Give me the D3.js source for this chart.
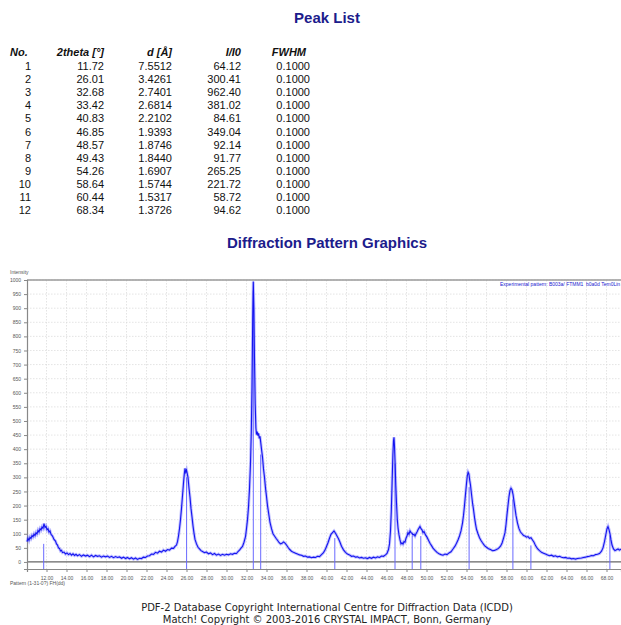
<!DOCTYPE html>
<html lang="en">
  <head>
    <meta charset="utf-8" />
    <title>Peak List</title>
    <script src="https://d3js.org/d3.v7.min.js"></script>
    <style type="text/css">
      body {
        margin: 0;
        background: #fff;
      }
      .title {
        font-family: "Liberation Sans", Arial, sans-serif;
        font-weight: bold;
        font-size: 15px;
        fill: #1c1c8c;
      }
      .tbl {
        font-family: "Liberation Sans", Arial, sans-serif;
        font-size: 11px;
        fill: #111;
      }
      .tbl.head {
        font-style: italic;
        font-weight: bold;
      }
      .tiny {
        font-family: "Liberation Sans", Arial, sans-serif;
        font-size: 5px;
        fill: #555;
      }
      .foot {
        font-family: "DejaVu Sans", Verdana, sans-serif;
        font-size: 10px;
        fill: #222;
      }
    </style>
  </head>
  <body>
    <script type="text/javascript">
      // peak list
      var peakNo = [1, 2, 3, 4, 5, 6, 7, 8, 9, 10, 11, 12];
      var peakTheta = [11.72, 26.01, 32.68, 33.42, 40.83, 46.85, 48.57, 49.43, 54.26, 58.64, 60.44, 68.34];
      var peakD = ["7.5512", "3.4261", "2.7401", "2.6814", "2.2102", "1.9393", "1.8746", "1.8440", "1.6907", "1.5744", "1.5317", "1.3726"];
      var peakI = [64.12, 300.41, 962.40, 381.02, 84.61, 349.04, 92.14, 91.77, 265.25, 221.72, 58.72, 94.62];
      var peakFwhm = [0.1, 0.1, 0.1, 0.1, 0.1, 0.1, 0.1, 0.1, 0.1, 0.1, 0.1, 0.1];

      var patTheta = [
        10.05, 10.15, 10.25, 10.35, 10.45, 10.55, 10.65, 10.75, 10.85, 10.95,
        11.05, 11.15, 11.25, 11.35, 11.45, 11.55, 11.65, 11.75, 11.85, 11.95,
        12.05, 12.15, 12.25, 12.35, 12.45, 12.6, 12.75, 12.9, 13.0, 13.1,
        13.2, 13.3, 13.4, 13.5, 13.6, 13.75, 13.9, 14.05, 14.2, 14.35,
        14.5, 14.65, 14.8, 14.95, 15.1, 15.3, 15.5, 15.7, 15.9, 16.1,
        16.3, 16.5, 16.7, 16.9, 17.1, 17.3, 17.5, 17.7, 17.9, 18.1,
        18.3, 18.5, 18.7, 18.9, 19.1, 19.3, 19.5, 19.7, 19.9, 20.1,
        20.3, 20.5, 20.7, 20.9, 21.1, 21.3, 21.5, 21.7, 21.9, 22.1,
        22.3, 22.5, 22.7, 22.9, 23.1, 23.3, 23.5, 23.7, 23.9, 24.1,
        24.3, 24.5, 24.7, 24.85, 25.0, 25.1, 25.2, 25.3, 25.4, 25.5,
        25.6, 25.7, 25.78, 25.85, 25.92, 26.0, 26.08, 26.15, 26.25, 26.35,
        26.45, 26.55, 26.65, 26.75, 26.85, 27.0, 27.15, 27.3, 27.45, 27.6,
        27.8, 28.0, 28.2, 28.4, 28.6, 28.8, 29.0, 29.2, 29.4, 29.6,
        29.8, 30.0, 30.2, 30.4, 30.6, 30.8, 31.0, 31.15, 31.3, 31.45,
        31.6, 31.75, 31.9, 32.0, 32.1, 32.2, 32.3, 32.4, 32.48, 32.55,
        32.62, 32.68, 32.74, 32.8, 32.87, 32.94, 33.0, 33.07, 33.14, 33.21,
        33.28, 33.35, 33.42, 33.5, 33.6, 33.7, 33.8, 33.9, 34.0, 34.1,
        34.2, 34.35, 34.5, 34.65, 34.8, 34.95, 35.1, 35.25, 35.4, 35.55,
        35.7, 35.85, 36.0, 36.15, 36.3, 36.5, 36.7, 36.9, 37.1, 37.3,
        37.5, 37.7, 37.9, 38.1, 38.3, 38.5, 38.7, 38.9, 39.1, 39.3,
        39.5, 39.7, 39.85, 40.0, 40.15, 40.3, 40.45, 40.6, 40.75, 40.9,
        41.05, 41.2, 41.35, 41.5, 41.7, 41.9, 42.1, 42.3, 42.5, 42.7,
        42.9, 43.1, 43.3, 43.5, 43.7, 43.9, 44.1, 44.3, 44.5, 44.7,
        44.9, 45.1, 45.3, 45.5, 45.7, 45.9, 46.05, 46.2, 46.3, 46.4,
        46.48, 46.56, 46.64, 46.7, 46.75, 46.8, 46.86, 46.93, 47.0, 47.08,
        47.16, 47.25, 47.35, 47.45, 47.55, 47.65, 47.75, 47.85, 47.95, 48.05,
        48.15, 48.25, 48.35, 48.45, 48.55, 48.65, 48.75, 48.85, 48.95, 49.05,
        49.15, 49.25, 49.35, 49.45, 49.55, 49.65, 49.75, 49.9, 50.05, 50.2,
        50.35, 50.5, 50.65, 50.85, 51.05, 51.25, 51.45, 51.65, 51.85, 52.05,
        52.25, 52.45, 52.65, 52.85, 53.0, 53.15, 53.3, 53.45, 53.6, 53.7,
        53.8, 53.9, 54.0, 54.08, 54.16, 54.24, 54.32, 54.4, 54.5, 54.6,
        54.7, 54.8, 54.9, 55.0, 55.15, 55.3, 55.45, 55.6, 55.8, 56.0,
        56.2, 56.4, 56.6, 56.8, 57.0, 57.2, 57.4, 57.55, 57.7, 57.85,
        57.95, 58.05, 58.15, 58.25, 58.35, 58.45, 58.55, 58.65, 58.75, 58.85,
        58.95, 59.1, 59.25, 59.4, 59.55, 59.7, 59.85, 60.0, 60.15, 60.3,
        60.45, 60.6, 60.75, 60.9, 61.1, 61.3, 61.5, 61.7, 61.9, 62.1,
        62.3, 62.5, 62.7, 62.9, 63.1, 63.3, 63.5, 63.7, 63.9, 64.1,
        64.3, 64.5, 64.7, 64.9, 65.1, 65.3, 65.5, 65.7, 65.9, 66.1,
        66.3, 66.5, 66.7, 66.9, 67.1, 67.3, 67.5, 67.65, 67.8, 67.95,
        68.05, 68.15, 68.25, 68.35, 68.45, 68.55, 68.7, 68.85, 69.0, 69.15,
        69.3, 69.45
      ];
      var patCounts = [
        72, 84, 76, 88, 83, 94, 89, 99, 93, 104,
        99, 112, 106, 118, 113, 124, 119, 136, 122, 127,
        114, 118, 106, 110, 98, 92, 80, 74, 64, 60,
        50, 48, 39, 41, 33, 35, 28, 32, 26, 30,
        24, 29, 23, 27, 22, 26, 20, 25, 21, 24,
        19, 24, 18, 23, 20, 22, 17, 21, 18, 21,
        16, 20, 15, 19, 16, 18, 13, 17, 12, 16,
        11, 15, 10, 14, 9, 13, 12, 17, 16, 21,
        22, 28, 27, 34, 31, 38, 35, 42, 38, 44,
        42, 49, 48, 55, 60, 72, 92, 118, 150, 190,
        235, 280, 312, 332, 318, 326, 312, 300, 262, 230,
        190, 160, 128, 102, 80, 64, 52, 46, 40, 37,
        33, 35, 29, 32, 26, 30, 24, 28, 23, 27,
        24, 27, 25, 29, 27, 31, 30, 37, 42, 49,
        55, 70, 90, 118, 150, 195, 260, 350, 460, 620,
        860, 995, 900, 720, 560, 475, 452, 462, 448, 456,
        438, 446, 425, 400, 372, 330, 300, 262, 232, 200,
        176, 140, 118, 100, 92, 84, 77, 69, 64, 66,
        71, 67, 60, 52, 45, 38, 34, 31, 28, 25,
        24, 20, 21, 17, 18, 15, 17, 16, 20, 19,
        26, 33, 42, 55, 68, 84, 98, 104, 110, 102,
        92, 82, 70, 56, 43, 34, 28, 25, 20, 21,
        17, 18, 14, 16, 13, 15, 12, 16, 13, 17,
        14, 18, 16, 21, 20, 25, 30, 44, 64, 110,
        180, 280, 380, 430, 442, 410, 350, 270, 210, 150,
        118, 96, 78, 64, 68, 63, 72, 70, 84, 92,
        104, 98, 110, 104, 102, 96, 98, 92, 100, 106,
        114, 120, 126, 118, 114, 104, 108, 96, 88, 77,
        66, 58, 49, 41, 34, 29, 26, 24, 28, 26,
        32, 36, 46, 56, 66, 78, 92, 110, 138, 165,
        200, 240, 278, 305, 318, 312, 290, 272, 240, 210,
        186, 158, 135, 116, 100, 86, 76, 68, 58, 52,
        47, 44, 40, 41, 44, 48, 56, 66, 84, 104,
        132, 168, 200, 232, 254, 262, 256, 240, 215, 190,
        165, 138, 118, 106, 100, 94, 92, 88, 90, 84,
        86, 78, 70, 58, 47, 40, 34, 31, 28, 25,
        22, 24, 20, 22, 18, 20, 17, 15, 16, 13,
        14, 11, 12, 10, 12, 13, 14, 16, 17, 19,
        20, 23, 22, 26, 27, 30, 38, 50, 72, 100,
        118, 126, 115, 100, 78, 60, 46, 40, 43, 46,
        42, 46
      ];

      // y ticks / x ticks
      var yTicks = d3.range(0, 1001, 50);
      var xTicks = d3.range(12, 69, 2);

      var W = 621, H = 625;
      var svg = d3.select("body").append("svg")
        .attr("width", W)
        .attr("height", H);

      // titles
      svg.append("text").attr("class", "title")
        .attr("x", 327).attr("y", 23)
        .attr("text-anchor", "middle").text("Peak List");
      svg.append("text").attr("class", "title")
        .attr("x", 327).attr("y", 248)
        .attr("text-anchor", "middle").text("Diffraction Pattern Graphics");

      // peak table
      var cols = [
        { head: "No.", x: 31, anchor: "end", hx: 10, hanchor: "start", val: function (i) { return peakNo[i]; } },
        { head: "2theta [°]", x: 104, anchor: "end", val: function (i) { return peakTheta[i].toFixed(2); } },
        { head: "d [Å]", x: 172, anchor: "end", val: function (i) { return peakD[i]; } },
        { head: "I/I0", x: 241, anchor: "end", val: function (i) { return peakI[i].toFixed(2); } },
        { head: "FWHM", x: 310, anchor: "end", hx: 306, val: function (i) { return peakFwhm[i].toFixed(4); } }
      ];
      var rowY0 = 70, rowDy = 13.1;
      cols.forEach(function (c) {
        svg.append("text").attr("class", "tbl head")
          .attr("x", c.hx != null ? c.hx : c.x)
          .attr("y", 56)
          .attr("text-anchor", c.hanchor || c.anchor)
          .text(c.head);
        svg.selectAll(null).data(peakNo).enter().append("text")
          .attr("class", "tbl")
          .attr("x", c.x)
          .attr("y", function (d, i) { return rowY0 + i * rowDy; })
          .attr("text-anchor", c.anchor)
          .text(function (d, i) { return c.val(i); });
      });

      // chart
      var plotL = 27, plotR = 621, plotT = 280, plotB = 569;
      var x = d3.scaleLinear().domain([10.05, 69.45]).range([plotL, plotR]);
      var y = d3.scaleLinear().domain([-25, 1000]).range([plotB, plotT]);

      var g = svg.append("g");

      // grid
      g.selectAll(".hg").data(yTicks.slice(1)).enter().append("line")
        .attr("x1", plotL).attr("x2", plotR)
        .attr("y1", function (d) { return y(d); })
        .attr("y2", function (d) { return y(d); })
        .attr("stroke", "#d8d8d8").attr("stroke-width", 0.7)
        .attr("stroke-dasharray", "1.5,1.5");
      g.selectAll(".vg").data(xTicks).enter().append("line")
        .attr("x1", function (d) { return x(d); })
        .attr("x2", function (d) { return x(d); })
        .attr("y1", plotT).attr("y2", plotB)
        .attr("stroke", "#d8d8d8").attr("stroke-width", 0.7)
        .attr("stroke-dasharray", "1.5,1.5");

      // frame
      g.append("line").attr("x1", plotL).attr("x2", plotR)
        .attr("y1", plotT).attr("y2", plotT)
        .attr("stroke", "#9a9a9a").attr("stroke-width", 1.5);
      g.append("line").attr("x1", plotL).attr("x2", plotR)
        .attr("y1", y(0)).attr("y2", y(0))
        .attr("stroke", "#666").attr("stroke-width", 1.2);

      // axes
      var yAxis = d3.axisLeft(y).tickValues(yTicks).tickSize(3).tickFormat(d3.format("d"));
      var ya = g.append("g").attr("transform", "translate(" + plotL + ",0)").call(yAxis);
      var xAxis = d3.axisBottom(x).tickValues(xTicks).tickSize(3).tickFormat(d3.format(".2f"));
      var xa = g.append("g").attr("transform", "translate(0," + plotB + ")").call(xAxis);
      [ya, xa].forEach(function (a) {
        a.attr("font-size", null).attr("font-family", null);
        a.select(".domain").attr("stroke", "#888").attr("stroke-width", 1.2);
        a.selectAll(".tick line").attr("stroke", "#888");
        a.selectAll(".tick text").attr("class", "tiny");
      });
      xa.selectAll(".tick text").attr("dy", "0.9em");

      svg.append("text").attr("class", "tiny").attr("x", 10).attr("y", 274).text("Intensity");
      svg.append("text").attr("class", "tiny").attr("x", 10).attr("y", 585).text("Pattern (1-31-0?) FH(dd)");
      svg.append("text").attr("class", "tiny").attr("x", 500).attr("y", 286)
        .style("fill", "#2020d0").text("Experimental pattern: B003a/ FTMM1");
      svg.append("text").attr("class", "tiny").attr("x", 586).attr("y", 286)
        .style("fill", "#2020d0").text("b0a0d Tem0Lin");

      // peak markers
      g.selectAll(".pk").data(peakTheta).enter().append("line")
        .attr("x1", function (d) { return x(d); })
        .attr("x2", function (d) { return x(d); })
        .attr("y1", plotB)
        .attr("y2", function (d, i) { return y(peakI[i]); })
        .attr("stroke", "#6a6aff").attr("stroke-width", 1);

      // pattern
      var pts = patTheta.map(function (t, i) { return [t, patCounts[i]]; });
      var line = d3.line()
        .x(function (d) { return x(d[0]); })
        .y(function (d) { return y(d[1]); });
      g.append("path").datum(pts).attr("d", line)
        .attr("fill", "none").attr("stroke", "#5050ff")
        .attr("stroke-width", 3).attr("stroke-opacity", 0.35);
      g.append("path").datum(pts).attr("d", line)
        .attr("fill", "none").attr("stroke", "#1414f0")
        .attr("stroke-width", 1.1);

      // footer
      svg.append("text").attr("class", "foot")
        .attr("x", 327).attr("y", 611).attr("text-anchor", "middle")
        .text("PDF-2 Database Copyright International Centre for Diffraction Data (ICDD)");
      svg.append("text").attr("class", "foot")
        .attr("x", 327).attr("y", 623).attr("text-anchor", "middle")
        .text("Match! Copyright © 2003-2016 CRYSTAL IMPACT, Bonn, Germany");
    </script>
  </body>
</html>
